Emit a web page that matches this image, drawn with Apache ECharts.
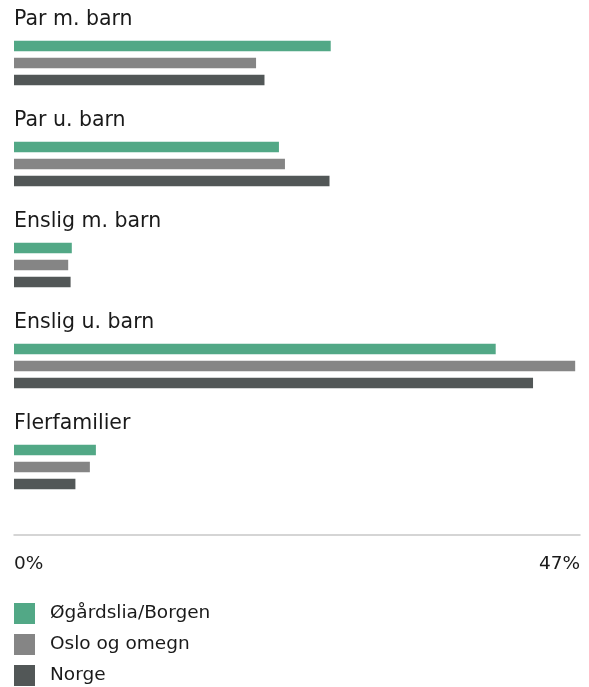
<!DOCTYPE html>
<html>
<head>
<meta charset="utf-8">
<script src="https://cdn.jsdelivr.net/npm/echarts@6/dist/echarts.min.js"></script>
<style>
  html, body { margin: 0; padding: 0; background: #ffffff; }
  #chart { width: 589px; height: 687px; }
</style>
</head>
<body>
<div id="chart"></div>
<script>
// Household types, share of households (%)
const categories = ['Par m. barn', 'Par u. barn', 'Enslig m. barn', 'Enslig u. barn', 'Flerfamilier'];
const seriesNames = ['Øgårdslia/Borgen', 'Oslo og omegn', 'Norge'];
const ogardsliaBorgen = [26.3, 22.0, 4.8, 40.0, 6.8];
const osloOgOmegn = [20.1, 22.5, 4.5, 46.6, 6.3];
const norge = [20.8, 26.2, 4.7, 43.1, 5.1];
const axisMax = 47;

const colors = ['#52a886', '#858585', '#525757'];
const fontFamily = 'DejaVu Sans, sans-serif';
const textColor = '#1a1a1a';

const chart = echarts.init(document.getElementById('chart'), null, { renderer: 'canvas' });

const values = [ogardsliaBorgen, osloOgOmegn, norge];

chart.setOption({
  backgroundColor: '#ffffff',
  animation: false,
  color: colors,
  grid: { left: 14, right: 9, top: 12.5, height: 505, containLabel: false },
  legend: {
    orient: 'vertical',
    left: 14,
    top: 603,
    padding: 0,
    itemWidth: 21,
    itemHeight: 21,
    itemGap: 10,
    icon: 'rect',
    selectedMode: false,
    textStyle: { fontFamily, fontSize: 18.5, color: textColor, padding: [0, 0, 0, 10] },
    data: seriesNames
  },
  xAxis: {
    type: 'value',
    min: 0,
    max: axisMax,
    interval: axisMax,
    offset: 17,
    axisLine: { show: true, lineStyle: { color: '#c8c8c8', width: 1.5 } },
    axisTick: { show: false },
    splitLine: { show: false },
    axisLabel: {
      margin: 20,
      fontFamily,
      fontSize: 18.5,
      color: textColor,
      alignMinLabel: 'left',
      alignMaxLabel: 'right',
      formatter: v => v + '%'
    }
  },
  yAxis: {
    type: 'category',
    inverse: true,
    data: categories,
    axisLine: { show: false },
    axisTick: { show: false },
    axisLabel: {
      inside: true,
      margin: 0,
      interval: 0,
      showMinLabel: true,
      showMaxLabel: true,
      hideOverlap: false,
      align: 'left',
      verticalAlign: 'middle',
      // the name sits on its own line above the group of bars
      formatter: name => '{t|' + name + '}\n{gap|}',
      rich: {
        t: { fontFamily, fontSize: 20.5, color: textColor, lineHeight: 24 },
        gap: { height: 86, lineHeight: 86 }
      }
    }
  },
  series: seriesNames.map((name, i) => ({
    name,
    type: 'bar',
    data: values[i],
    barWidth: 10.5,
    barGap: '62%',
    itemStyle: { color: colors[i] }
  }))
});
</script>
</body>
</html>
